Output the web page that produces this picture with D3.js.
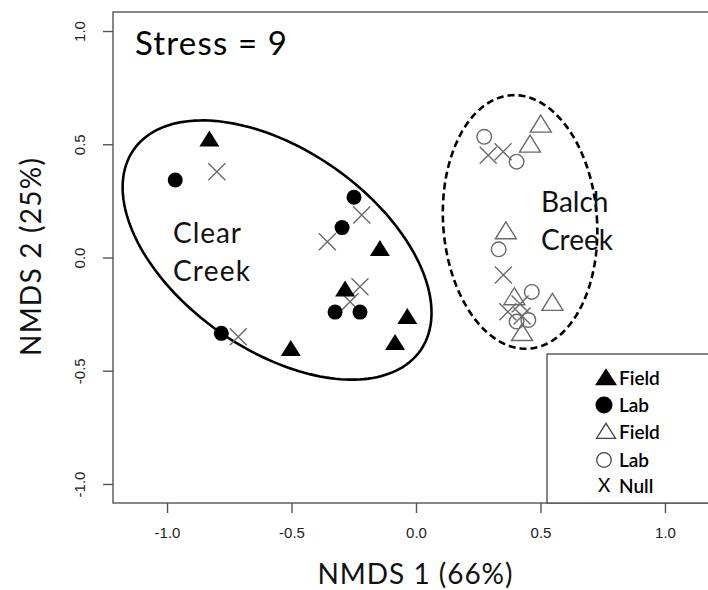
<!DOCTYPE html>
<html><head><meta charset="utf-8">
<script src="https://cdn.jsdelivr.net/npm/d3@7"></script>
<style>body{margin:0;background:#fff;} svg{display:block;}</style>
</head><body>
<svg id="chart" width="708" height="590"></svg>
<script>
// ---------- data ----------
const xTicks = [-1.0, -0.5, 0.0, 0.5, 1.0];
const yTicks = [-1.0, -0.5, 0.0, 0.5, 1.0];
const tickLabels = ["-1.0", "-0.5", "0.0", "0.5", "1.0"];

// Clear Creek (filled symbols) and its nulls
const clearField = [[-0.83,0.52],[-0.145,0.036],[-0.285,-0.143],[-0.035,-0.264],[-0.084,-0.379],[-0.503,-0.405]];
const clearLab   = [[-0.967,0.342],[-0.249,0.266],[-0.297,0.132],[-0.325,-0.241],[-0.225,-0.241],[-0.782,-0.335]];
const clearNull  = [[-0.80,0.379],[-0.218,0.188],[-0.356,0.070],[-0.225,-0.129],[-0.265,-0.195],[-0.714,-0.350]];
// Balch Creek (open symbols) and its nulls
const balchField = [[0.501,0.585],[0.458,0.497],[0.361,0.114],[0.395,-0.177],[0.548,-0.202],[0.426,-0.335]];
const balchLab   = [[0.274,0.533],[0.404,0.423],[0.332,0.036],[0.465,-0.152],[0.404,-0.283],[0.451,-0.276]];
const balchNull  = [[0.29,0.452],[0.35,0.467],[0.351,-0.077],[0.369,-0.240],[0.418,-0.205],[0.426,-0.258]];

// group ellipses: centre (data units), semi-axes (x-data units), rotation (deg)
const groupNames = ["Clear Creek", "Balch Creek"];
const ellipses = [
  {cx: -0.558, cy: 0.033, a: 0.703, b: 0.402, angle: 35, dashed: false},
  {cx: 0.418, cy: 0.157, a: 0.309, b: 0.51, angle: -4, dashed: true}
];

const legendLabels = ["Field", "Lab", "Field", "Lab", "Null"];
const legendSymbols = ["triFill", "circFill", "triOpen", "circOpen", "x"];

// ---------- layout ----------
const svg = d3.select("#chart");
const x = d3.scaleLinear().domain([-1.217, 1.221]).range([113, 720]);
const y = d3.scaleLinear().domain([-1.084, 1.084]).range([503, 12]);
const frameColor = "#555";
const symGray = "#6a6a6a";
const calibri = "Lato, 'Open Sans', sans-serif";

svg.append("rect").attr("width", 708).attr("height", 590).attr("fill", "#fff");

// frame
svg.append("rect")
  .attr("x", x.range()[0]).attr("y", y.range()[1])
  .attr("width", x.range()[1] - x.range()[0]).attr("height", y.range()[0] - y.range()[1])
  .attr("fill", "none").attr("stroke", frameColor).attr("stroke-width", 1.4);

// axes
const xAxis = svg.append("g").attr("transform", `translate(0,${y.range()[0]})`)
  .call(d3.axisBottom(x).tickValues(xTicks).tickSize(10).tickSizeOuter(0)
        .tickFormat((d, i) => tickLabels[i]));
xAxis.select(".domain").remove();
xAxis.selectAll(".tick line").attr("stroke", frameColor).attr("stroke-width", 1.4);
xAxis.selectAll(".tick text").attr("y", 35).attr("dy", 0)
  .attr("font-family", "'Liberation Sans', Arial, sans-serif").attr("font-size", 15).attr("fill", "#222");

const yAxis = svg.append("g").attr("transform", `translate(${x.range()[0]},0)`)
  .call(d3.axisLeft(y).tickValues(yTicks).tickSize(10).tickSizeOuter(0)
        .tickFormat((d, i) => tickLabels[i]));
yAxis.select(".domain").remove();
yAxis.selectAll(".tick line").attr("stroke", frameColor).attr("stroke-width", 1.4);
yAxis.selectAll(".tick text")
  .attr("x", null).attr("dy", null).attr("text-anchor", "middle")
  .attr("transform", "translate(-28.5,0) rotate(-90)")
  .attr("font-family", "'Liberation Sans', Arial, sans-serif").attr("font-size", 15).attr("fill", "#222");

// ellipses
const kx = x(1) - x(0);
function ellipsePath(e) {
  const th = e.angle * Math.PI / 180;
  const cx = x(e.cx), cy = y(e.cy);
  const pts = d3.range(0, 361, 2).map(t => {
    const r = t * Math.PI / 180;
    const ex = e.a * kx * Math.cos(r), ey = e.b * kx * Math.sin(r);
    return [cx + ex * Math.cos(th) - ey * Math.sin(th), cy + ex * Math.sin(th) + ey * Math.cos(th)];
  });
  return d3.line().curve(d3.curveLinearClosed)(pts);
}
svg.selectAll("path.ell").data(ellipses).join("path")
  .attr("class", "ell")
  .attr("d", ellipsePath)
  .attr("fill", "none").attr("stroke", "#000").attr("stroke-width", 2.6)
  .attr("stroke-dasharray", d => d.dashed ? "7,4" : null);

// symbols
function triPath(cx, cy, w, h) {
  return `M${cx},${cy - h * 0.58}L${cx + w / 2},${cy + h * 0.42}L${cx - w / 2},${cy + h * 0.42}Z`;
}
function crossPath(cx, cy, s) {
  return `M${cx - s},${cy - s}L${cx + s},${cy + s}M${cx - s},${cy + s}L${cx + s},${cy - s}`;
}
const g = svg.append("g");
g.selectAll("path.cn").data(clearNull.concat(balchNull)).join("path")
  .attr("d", d => crossPath(x(d[0]), y(d[1]), 8.5))
  .attr("stroke", symGray).attr("stroke-width", 1.4).attr("fill", "none");
g.selectAll("path.bf").data(balchField).join("path").attr("class", "bf")
  .attr("d", d => triPath(x(d[0]), y(d[1]), 21, 17))
  .attr("fill", "none").attr("stroke", symGray).attr("stroke-width", 1.4);
g.selectAll("circle.bl").data(balchLab).join("circle").attr("class", "bl")
  .attr("cx", d => x(d[0])).attr("cy", d => y(d[1])).attr("r", 7.3)
  .attr("fill", "none").attr("stroke", symGray).attr("stroke-width", 1.4);
g.selectAll("path.cf").data(clearField).join("path").attr("class", "cf")
  .attr("d", d => triPath(x(d[0]), y(d[1]), 20, 16)).attr("fill", "#000");
g.selectAll("circle.cl").data(clearLab).join("circle").attr("class", "cl")
  .attr("cx", d => x(d[0])).attr("cy", d => y(d[1])).attr("r", 7.5).attr("fill", "#000");

// group labels
const lab = [[groupNames[0], 173, 243, 68, 77], [groupNames[1], 541, 212, null, null]];
lab.forEach(([name, lx, ly, w1, w2]) => {
  const parts = name.split(" ");
  parts.forEach((p, i) => {
    const t = svg.append("text").attr("x", lx).attr("y", ly + i * 38)
      .attr("font-family", calibri).attr("font-size", 28).attr("fill", "#111").text(p);
    const w = i === 0 ? w1 : w2;
    if (w) t.attr("textLength", w);
  });
});

// stress annotation
svg.append("text").attr("x", 135).attr("y", 55)
  .attr("font-family", calibri).attr("font-size", 33).attr("fill", "#000")
  .attr("textLength", 152).text("Stress = 9");

// axis titles
svg.append("text").attr("x", 415).attr("y", 584).attr("text-anchor", "middle")
  .attr("font-family", calibri).attr("font-size", 28).attr("fill", "#111")
  .attr("textLength", 195).text("NMDS 1 (66%)");
svg.append("text").attr("transform", "translate(41,257) rotate(-90)").attr("text-anchor", "middle")
  .attr("font-family", calibri).attr("font-size", 28).attr("fill", "#111")
  .attr("textLength", 198).text("NMDS 2 (25%)");

// legend
const lg = svg.append("g");
lg.append("rect").attr("x", 547).attr("y", 354).attr("width", 180).attr("height", y.range()[0] - 354)
  .attr("fill", "#fff").attr("stroke", frameColor).attr("stroke-width", 1.4);
const rowY = [378, 405, 432, 460, 486];
legendSymbols.forEach((s, i) => {
  const cy = rowY[i];
  if (s === "triFill") lg.append("path").attr("d", triPath(606, cy, 22, 17)).attr("fill", "#000");
  if (s === "circFill") lg.append("circle").attr("cx", 604).attr("cy", cy).attr("r", 8.5).attr("fill", "#000");
  if (s === "triOpen") lg.append("path").attr("d", triPath(606, cy, 19, 15)).attr("fill", "none").attr("stroke", "#444").attr("stroke-width", 1.3);
  if (s === "circOpen") lg.append("circle").attr("cx", 604).attr("cy", cy).attr("r", 7.3).attr("fill", "none").attr("stroke", "#444").attr("stroke-width", 1.3);
  if (s === "x") lg.append("text").attr("x", 598).attr("y", cy + 6).attr("font-family", calibri)
      .attr("font-size", 19).attr("fill", "#000").text("X");
  lg.append("text").attr("x", 619).attr("y", cy + 7).attr("font-family", calibri)
    .attr("font-size", 19).attr("font-weight", 600).attr("fill", "#000").text(legendLabels[i]);
});
</script>
</body></html>
